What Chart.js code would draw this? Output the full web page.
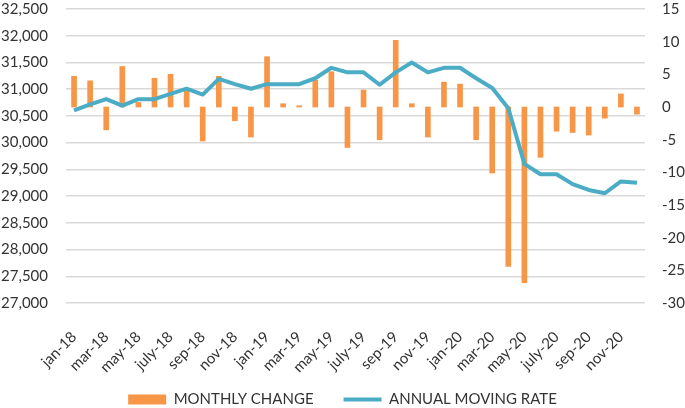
<!DOCTYPE html>
<html>
<head>
<meta charset="utf-8">
<script src="https://cdn.jsdelivr.net/npm/chart.js@4"></script>
<style>
  html, body { margin: 0; padding: 0; background: #fff; }
  #wrap { width: 685px; height: 408px; }
</style>
</head>
<body>
<div id="wrap"><canvas id="chart" width="685" height="408"></canvas></div>
<script>
// months jan-18 .. dec-20
const months = [
  "jan-18", "feb-18", "mar-18", "apr-18", "may-18", "jun-18",
  "july-18", "aug-18", "sep-18", "oct-18", "nov-18", "dec-18",
  "jan-19", "feb-19", "mar-19", "apr-19", "may-19", "jun-19",
  "july-19", "aug-19", "sep-19", "oct-19", "nov-19", "dec-19",
  "jan-20", "feb-20", "mar-20", "apr-20", "may-20", "jun-20",
  "july-20", "aug-20", "sep-20", "oct-20", "nov-20", "dec-20"
];

// monthly change (bars, right axis)
const monthlyChange = [
  4.7, 4.0, -3.5, 6.2, 0.7, 4.4, 5.0, 2.5, -5.2, 4.7, -2.1, -4.6,
  7.7, 0.5, 0.2, 4.1, 5.4, -6.2, 2.6, -5.0, 10.2, 0.5, -4.6, 3.8,
  3.5, -5.0, -10.1, -24.4, -26.9, -7.7, -3.7, -3.9, -4.3, -1.7, 2.0, -1.1
];

// annual moving rate (line, right axis)
const annualRate = [
  -0.5, 0.4, 1.2, 0.2, 1.2, 1.2, 2.0, 2.8, 1.9, 4.3, 3.5, 2.8,
  3.5, 3.5, 3.5, 4.4, 6.0, 5.3, 5.3, 3.4, 5.3, 6.8, 5.3, 6.0,
  6.0, 4.4, 2.9, -0.2, -8.7, -10.3, -10.3, -11.8, -12.7, -13.2, -11.4, -11.6
];

// axis ranges
const leftMin = 27000, leftMax = 32500, leftStep = 500;
const rightMin = -30, rightMax = 15, rightStep = 5;

const textColor = "#333333";
const tickFont = { family: "Lato", size: 15 };

// pin the plot top, let the month labels use the room under the plot,
// and nudge the legend down a little
const fixLayout = {
  id: "fixLayout",
  afterLayout(chart) {
    const top = 9;
    const ca = chart.chartArea;
    ca.top = top;
    ca.height = ca.bottom - top;
    ["y", "y1"].forEach(id => {
      const s = chart.scales[id];
      s.top = top;
      s.height = s.bottom - top;
      s.configure();
    });
    const x = chart.scales.x;
    x.bottom = 395;
    x.height = x.bottom - x.top;
    chart.legend.top += 9;
    chart.legend.bottom += 9;
  }
};

new Chart(document.getElementById("chart"), {
  type: "bar",
  data: {
    labels: months,
    datasets: [
      {
        type: "bar",
        label: "MONTHLY CHANGE",
        data: monthlyChange,
        backgroundColor: "#F79646",
        borderWidth: 0,
        barThickness: 5,
        yAxisID: "y1",
        pointStyle: "rect",
        order: 2
      },
      {
        type: "line",
        label: "ANNUAL MOVING RATE",
        data: annualRate,
        borderColor: "#4BACC6",
        backgroundColor: "#4BACC6",
        borderWidth: 4,
        borderJoinStyle: "round",
        pointRadius: 0,
        tension: 0,
        fill: false,
        yAxisID: "y1",
        pointStyle: "line",
        order: 1
      }
    ]
  },
  plugins: [fixLayout],
  options: {
    responsive: false,
    animation: false,
    layout: { autoPadding: false, padding: { top: 9, bottom: 0, left: 0, right: 0 } },
    plugins: {
      tooltip: { enabled: false },
      legend: {
        position: "bottom",
        labels: {
          color: textColor,
          font: tickFont,
          usePointStyle: true,
          pointStyleWidth: 38,
          boxHeight: 10,
          padding: 30,
          sort: (a, b) => a.datasetIndex - b.datasetIndex
        }
      }
    },
    scales: {
      x: {
        grid: { display: false },
        border: { display: false },
        afterFit: s => { s.height = 50; },
        ticks: {
          color: textColor,
          font: tickFont,
          autoSkip: false,
          minRotation: 45,
          maxRotation: 45,
          padding: 17,
          callback: function (v, i) { return i % 2 === 0 ? months[i] : ""; }
        }
      },
      y: {
        position: "left",
        min: leftMin,
        max: leftMax,
        afterFit: s => { s.width = 66; },
        grid: { color: "#d9d9d9", lineWidth: 1.5, drawTicks: false },
        border: { display: false },
        ticks: {
          stepSize: leftStep,
          color: textColor,
          font: tickFont,
          padding: 18,
          callback: v => v.toLocaleString("en-US")
        }
      },
      y1: {
        position: "right",
        min: rightMin,
        max: rightMax,
        afterFit: s => { s.width = 40; },
        grid: { display: false, drawTicks: false },
        border: { display: false },
        ticks: {
          stepSize: rightStep,
          color: textColor,
          font: tickFont,
          padding: 17
        }
      }
    }
  }
});
</script>
</body>
</html>
